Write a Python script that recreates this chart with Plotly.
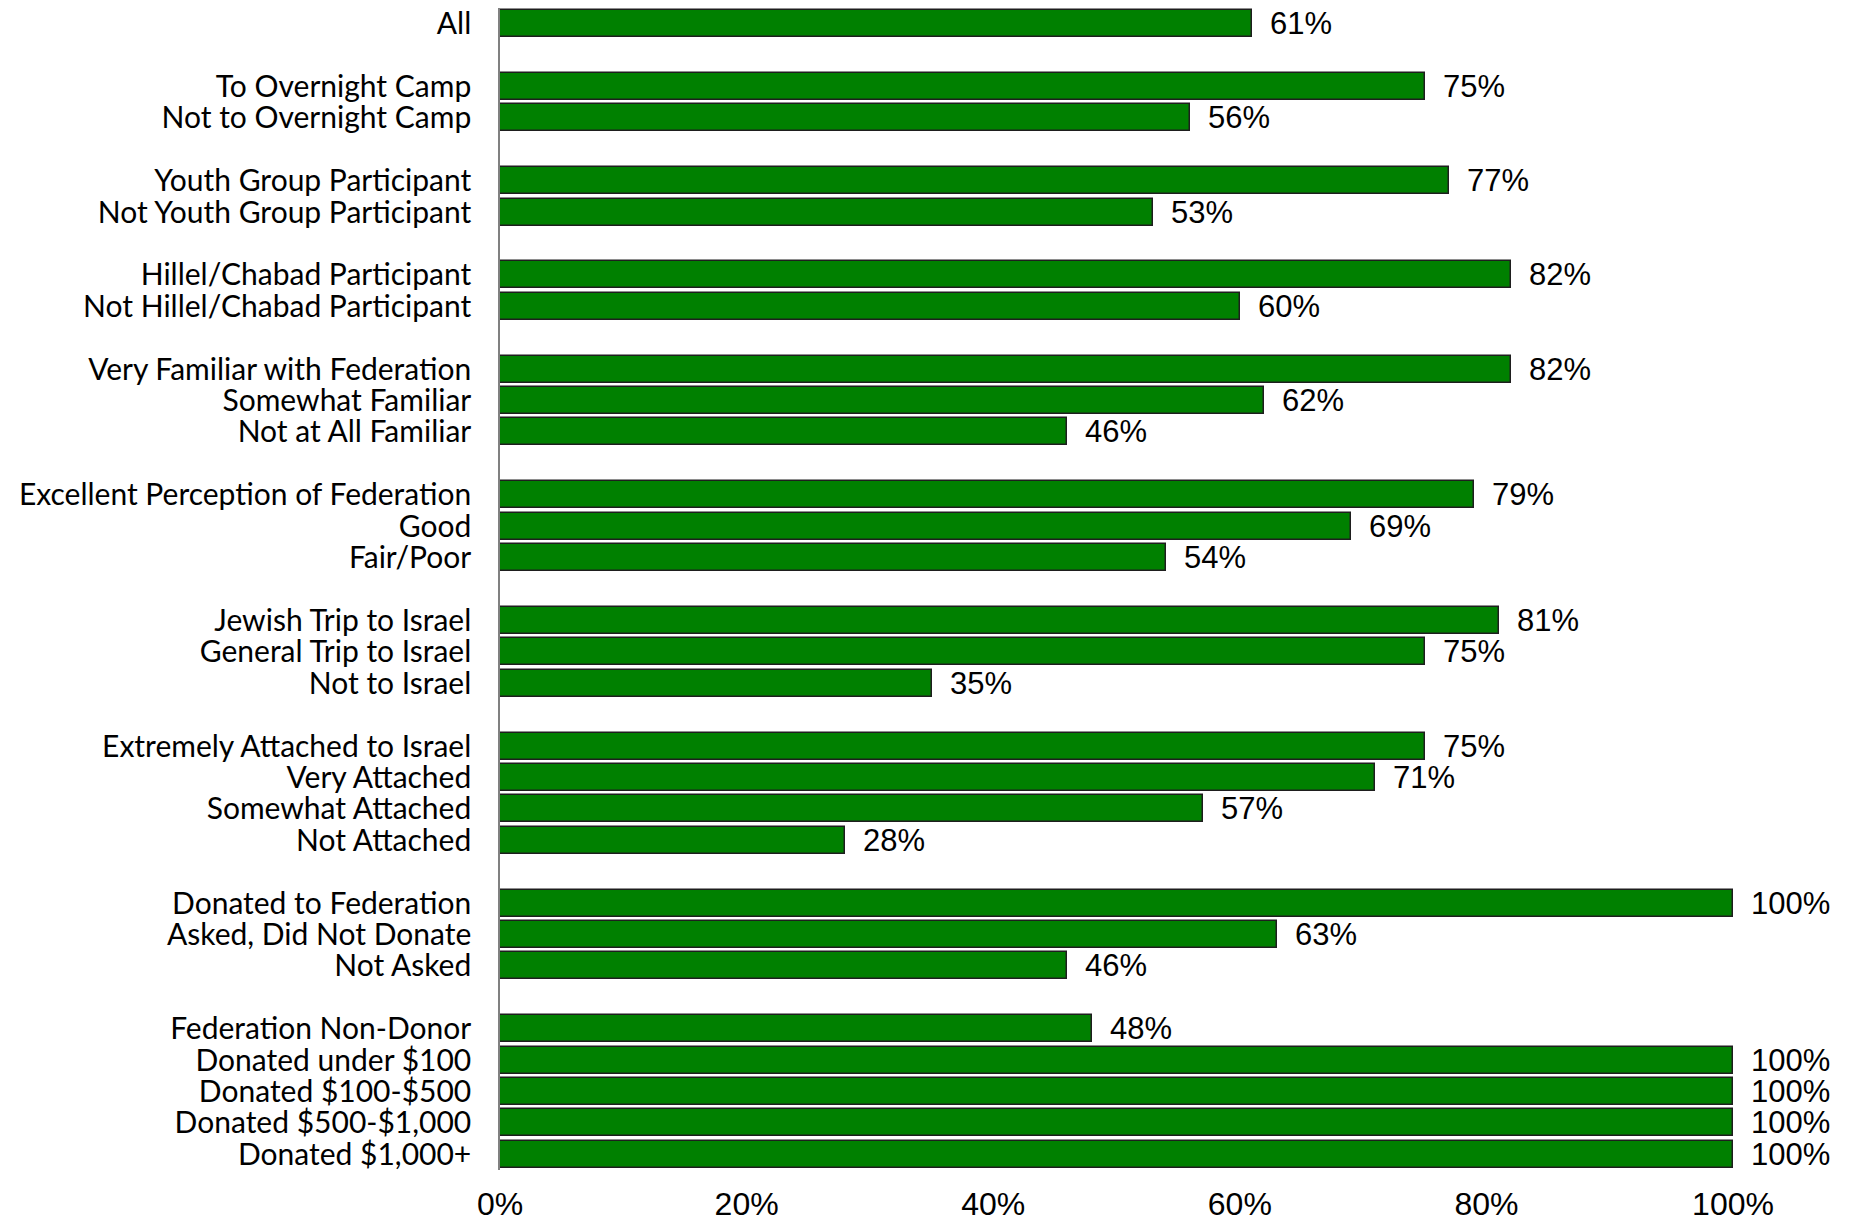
import plotly.graph_objects as go

# groups of categories, separated by a blank row
groups = [
    ["All"],
    ["To Overnight Camp", "Not to Overnight Camp"],
    ["Youth Group Participant", "Not Youth Group Participant"],
    ["Hillel/Chabad Participant", "Not Hillel/Chabad Participant"],
    ["Very Familiar with Federation", "Somewhat Familiar", "Not at All Familiar"],
    ["Excellent Perception of Federation", "Good", "Fair/Poor"],
    ["Jewish Trip to Israel", "General Trip to Israel", "Not to Israel"],
    ["Extremely Attached to Israel", "Very Attached", "Somewhat Attached", "Not Attached"],
    ["Donated to Federation", "Asked, Did Not Donate", "Not Asked"],
    ["Federation Non-Donor", "Donated under $100", "Donated $100-$500",
     "Donated $500-$1,000", "Donated $1,000+"],
]
values = [
    [61],
    [75, 56],
    [77, 53],
    [82, 60],
    [82, 62, 46],
    [79, 69, 54],
    [81, 75, 35],
    [75, 71, 57, 28],
    [100, 63, 46],
    [48, 100, 100, 100, 100],
]
tick_vals = [0, 20, 40, 60, 80, 100]
tick_text = ["0%", "20%", "40%", "60%", "80%", "100%"]

labels, vals, pos = [], [], []
slot = 0
for g, v in zip(groups, values):
    for lab, val in zip(g, v):
        labels.append(lab)
        vals.append(val)
        pos.append(slot)
        slot += 1
    slot += 1

fig = go.Figure()
fig.add_trace(go.Bar(
    x=vals, y=pos, orientation="h", width=0.86,
    marker=dict(color="#008000", line=dict(color="#1e1e1e", width=1.5)),
    hoverinfo="skip",
))

for lab, val, p in zip(labels, vals, pos):
    fig.add_annotation(x=val, y=p, text=f"{val}%", showarrow=False,
                       xanchor="left", yanchor="middle", xshift=16,
                       font=dict(family="Liberation Sans, Arial", size=31, color="#000"))

# page body has an 8px margin, so the figure is sized to fit inside it
fig.update_layout(
    width=1844, height=1212,
    margin=dict(l=492, r=119, t=0, b=50),
    plot_bgcolor="white", paper_bgcolor="white",
    showlegend=False,
    bargap=0,
)
fig.update_xaxes(range=[0, 100], tickvals=tick_vals, ticktext=tick_text,
                 showgrid=False, zeroline=False, showline=False,
                 ticks="", ticklabelstandoff=12, automargin=False,
                 ticklabeloverflow="allow",
                 tickfont=dict(family="Liberation Sans, Arial", size=32, color="#000"))
fig.update_yaxes(range=[pos[-1] + 0.5, -0.5], tickvals=pos, ticktext=labels,
                 showgrid=False, zeroline=False, showline=True,
                 linecolor="#808080", linewidth=1.5, ticks="",
                 ticklabelstandoff=21, automargin=False,
                 ticklabeloverflow="allow",
                 tickfont=dict(family="Lato", size=30, color="#000"))

fig.write_html("out.html")
